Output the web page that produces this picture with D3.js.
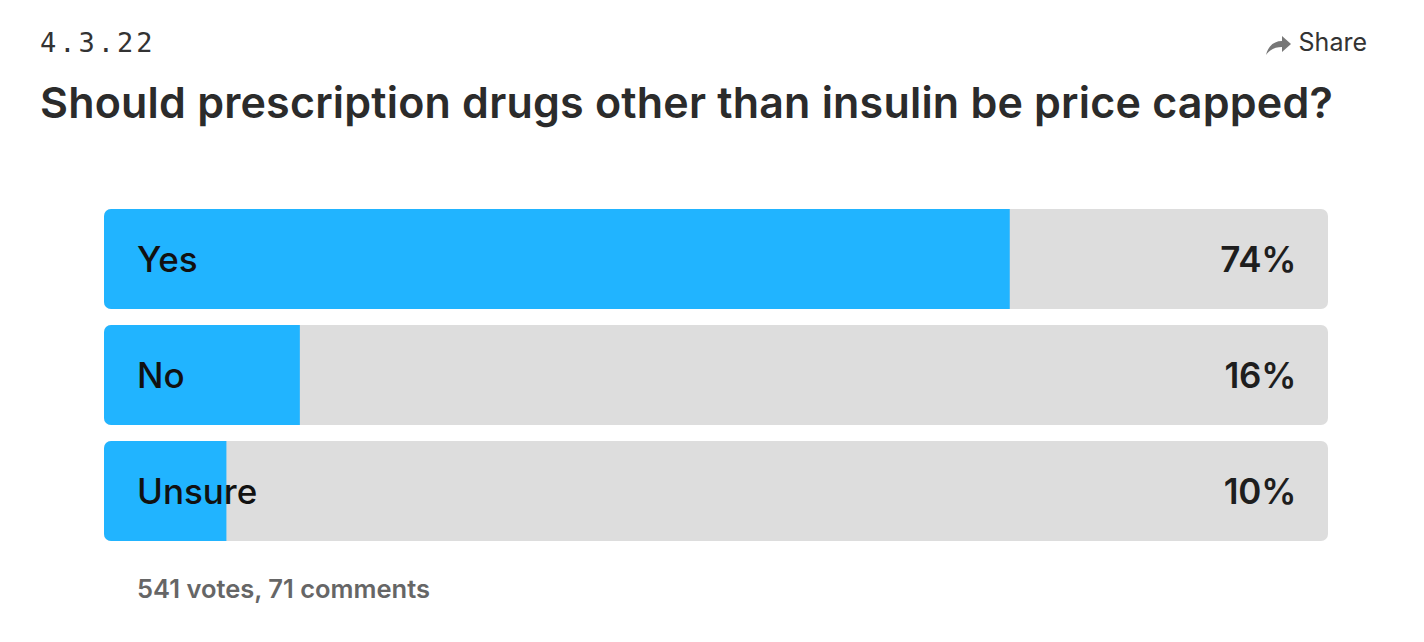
<!DOCTYPE html>
<html>
<head>
<meta charset="utf-8">
<script src="https://cdn.jsdelivr.net/npm/d3@7"></script>
<style>
  html, body { margin: 0; padding: 0; background: #fff; }
  svg { display: block; }
</style>
</head>
<body>
<svg id="chart" width="1424" height="642"></svg>
<script>
const dateLabel = "4.3.22";
const title = "Should prescription drugs other than insulin be price capped?";
const categories = ["Yes", "No", "Unsure"];
const values = [74, 16, 10];
const footer = "541 votes, 71 comments";
const shareLabel = "Share";

const svg = d3.select("#chart");
const font = "Inter, 'Liberation Sans', Arial, sans-serif";

const x = d3.scaleLinear().domain([0, 100]).range([104, 1328]);
const y = d3.scaleBand().domain(categories).range([209, 541]).paddingInner(16 / 116).paddingOuter(0);

// date
svg.append("text").attr("x", 40).attr("y", 52)
  .attr("font-family", "'DejaVu Sans Mono', 'Liberation Mono', monospace")
  .attr("font-size", 27).attr("letter-spacing", 3).attr("fill", "#333")
  .text(dateLabel);

// share
svg.append("path")
  .attr("d", "M1266,55 C1268,46 1274,41 1282,41 L1282,36 L1291,44 L1282,52 L1282,47 C1276,47 1270,49 1266,55 Z")
  .attr("fill", "#777");
svg.append("text").attr("x", 1367).attr("y", 51).attr("text-anchor", "end")
  .attr("font-family", font).attr("font-size", 25).attr("fill", "#333")
  .text(shareLabel);

// title
svg.append("text").attr("x", 40).attr("y", 118)
  .attr("font-family", font).attr("font-size", 43).attr("font-weight", 600)
  .attr("fill", "#2b2b2b").attr("letter-spacing", 0.2)
  .text(title);

const clipDefs = svg.append("defs");
const rows = svg.selectAll("g.row").data(categories).join("g").attr("class", "row");

rows.each(function(c, i) {
  const g = d3.select(this);
  const id = "clip" + i;
  clipDefs.append("clipPath").attr("id", id)
    .append("rect").attr("x", x(0)).attr("y", y(c))
    .attr("width", x(100) - x(0)).attr("height", y.bandwidth()).attr("rx", 7);
  const inner = g.append("g").attr("clip-path", `url(#${id})`);
  inner.append("rect").attr("x", x(0)).attr("y", y(c))
    .attr("width", x(100) - x(0)).attr("height", y.bandwidth()).attr("fill", "#dddddd");
  inner.append("rect").attr("x", x(0)).attr("y", y(c))
    .attr("width", x(values[i]) - x(0)).attr("height", y.bandwidth()).attr("fill", "#21b4ff");
  g.append("text").attr("x", 137).attr("y", y(c) + y.bandwidth() / 2 + 13)
    .attr("font-family", font).attr("font-size", 35).attr("font-weight", 500)
    .attr("fill", "#111").attr("letter-spacing", 0)
    .text(c);
  g.append("text").attr("x", 1296).attr("y", y(c) + y.bandwidth() / 2 + 13)
    .attr("text-anchor", "end")
    .attr("font-family", font).attr("font-size", 35).attr("font-weight", 600)
    .attr("fill", "#1e1e1e").attr("letter-spacing", -0.3)
    .text(values[i] + "%");
});

svg.append("text").attr("x", 137).attr("y", 598)
  .attr("font-family", font).attr("font-size", 25.5).attr("font-weight", 600)
  .attr("fill", "#666").attr("letter-spacing", 0)
  .text(footer);
</script>
</body>
</html>
